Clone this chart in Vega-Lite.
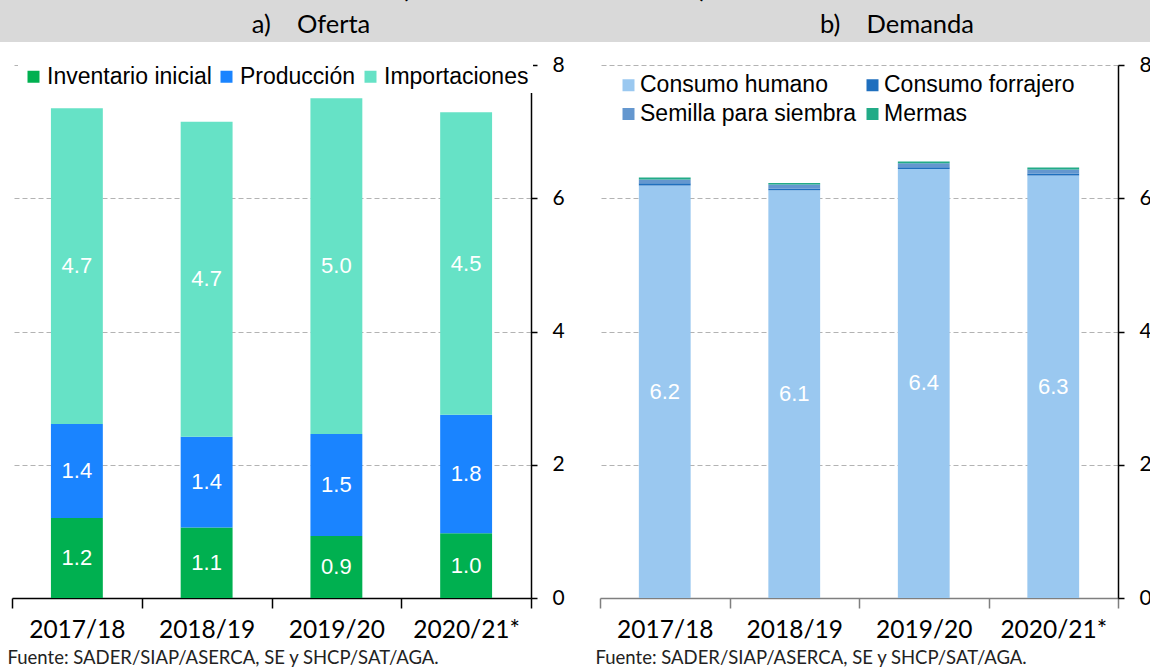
{
  "$schema": "https://vega.github.io/schema/vega-lite/v6.json",
  "padding": 0,
  "background": "white",
  "spacing": 12,
  "columns": 1,
  "align": "none",
  "config": {
    "view": {"stroke": null},
    "axis": {"labelFont": "Lato", "titleFont": "Lato", "labelColor": "black", "titleColor": "#222222"},
    "legend": {"labelFont": "Liberation Sans", "labelFontSize": 23, "labelColor": "black", "labelLimit": 400}
  },
  "resolve": {"scale": {"color": "independent", "y": "independent", "x": "independent"}, "legend": {"color": "independent"}},
  "datasets": {
    "oferta": [
      {"ciclo": "2017/18", "serie": "Inventario inicial", "orden": 1, "valor": 1.20},
      {"ciclo": "2017/18", "serie": "Producción", "orden": 2, "valor": 1.41},
      {"ciclo": "2017/18", "serie": "Importaciones", "orden": 3, "valor": 4.74},
      {"ciclo": "2018/19", "serie": "Inventario inicial", "orden": 1, "valor": 1.06},
      {"ciclo": "2018/19", "serie": "Producción", "orden": 2, "valor": 1.36},
      {"ciclo": "2018/19", "serie": "Importaciones", "orden": 3, "valor": 4.73},
      {"ciclo": "2019/20", "serie": "Inventario inicial", "orden": 1, "valor": 0.93},
      {"ciclo": "2019/20", "serie": "Producción", "orden": 2, "valor": 1.53},
      {"ciclo": "2019/20", "serie": "Importaciones", "orden": 3, "valor": 5.04},
      {"ciclo": "2020/21*", "serie": "Inventario inicial", "orden": 1, "valor": 0.97},
      {"ciclo": "2020/21*", "serie": "Producción", "orden": 2, "valor": 1.78},
      {"ciclo": "2020/21*", "serie": "Importaciones", "orden": 3, "valor": 4.54}
    ],
    "demanda": [
      {"ciclo": "2017/18", "serie": "Consumo humano", "orden": 1, "valor": 6.19},
      {"ciclo": "2017/18", "serie": "Consumo forrajero", "orden": 2, "valor": 0.035},
      {"ciclo": "2017/18", "serie": "Semilla para siembra", "orden": 3, "valor": 0.055},
      {"ciclo": "2017/18", "serie": "Mermas", "orden": 4, "valor": 0.03},
      {"ciclo": "2018/19", "serie": "Consumo humano", "orden": 1, "valor": 6.12},
      {"ciclo": "2018/19", "serie": "Consumo forrajero", "orden": 2, "valor": 0.025},
      {"ciclo": "2018/19", "serie": "Semilla para siembra", "orden": 3, "valor": 0.06},
      {"ciclo": "2018/19", "serie": "Mermas", "orden": 4, "valor": 0.025},
      {"ciclo": "2019/20", "serie": "Consumo humano", "orden": 1, "valor": 6.44},
      {"ciclo": "2019/20", "serie": "Consumo forrajero", "orden": 2, "valor": 0.025},
      {"ciclo": "2019/20", "serie": "Semilla para siembra", "orden": 3, "valor": 0.06},
      {"ciclo": "2019/20", "serie": "Mermas", "orden": 4, "valor": 0.025},
      {"ciclo": "2020/21*", "serie": "Consumo humano", "orden": 1, "valor": 6.34},
      {"ciclo": "2020/21*", "serie": "Consumo forrajero", "orden": 2, "valor": 0.03},
      {"ciclo": "2020/21*", "serie": "Semilla para siembra", "orden": 3, "valor": 0.06},
      {"ciclo": "2020/21*", "serie": "Mermas", "orden": 4, "valor": 0.03}
    ]
  },
  "concat": [
    {
      "width": 1150,
      "height": 42,
      "view": {"fill": "#d9d9d9", "stroke": null},
      "layer": [
        {
          "data": {"values": [{"t": "(Millones de toneladas)"}]},
          "mark": {"type": "text", "font": "Lato", "fontSize": 30.5, "baseline": "alphabetic", "color": "black", "dx": -21, "dy": -24.5, "clip": true},
          "encoding": {"text": {"field": "t"}}
        },
        {
          "data": {"values": [{"t": "a)\u00a0\u00a0\u00a0\u00a0Oferta"}]},
          "mark": {"type": "text", "font": "Lato", "fontSize": 25.5, "baseline": "alphabetic", "color": "black", "dx": -264, "dy": 12},
          "encoding": {"text": {"field": "t"}}
        },
        {
          "data": {"values": [{"t": "b)\u00a0\u00a0\u00a0\u00a0Demanda"}]},
          "mark": {"type": "text", "font": "Lato", "fontSize": 25.5, "baseline": "alphabetic", "color": "black", "dx": 322, "dy": 12},
          "encoding": {"text": {"field": "t"}}
        }
      ]
    },
    {
      "spacing": 0,
      "resolve": {"scale": {"color": "independent", "y": "independent", "x": "independent"}, "legend": {"color": "independent"}},
      "hconcat": [
        {
          "width": 7,
          "height": 10,
          "data": {"values": []},
          "mark": {"type": "point", "opacity": 0}
        },
        {
          "resolve": {"scale": {"color": "independent", "y": "independent", "x": "independent"}, "legend": {"color": "independent"}},
          "spacing": 30,
          "hconcat": [
            {
              "width": 519,
              "height": 533,
              "data": {"name": "oferta"},
              "layer": [
                {
                  "mark": {"type": "bar", "width": {"band": 0.4}},
                  "encoding": {
                    "x": {"field": "ciclo", "type": "nominal", "sort": null,
                      "scale": {"paddingInner": 0, "paddingOuter": 0},
                      "axis": {"title": "Fuente: SADER/SIAP/ASERCA, SE y SHCP/SAT/AGA.", "labelAngle": 0, "tickBand": "extent",
                        "domainColor": "black", "domainWidth": 1.5, "tickColor": "black", "tickWidth": 1.5, "tickSize": 10,
                        "labelFontSize": 24.5, "labelPadding": 10,
                        "titleAnchor": "start", "titleAlign": "left", "titleX": -5, "titleFontSize": 18.5, "titleFontWeight": "normal", "titlePadding": 7, "titleLimit": 600}},
                    "y": {"field": "valor", "type": "quantitative", "stack": "zero",
                      "scale": {"domain": [0, 8], "nice": false},
                      "axis": {"orient": "right", "values": [0, 2, 4, 6, 8], "format": "d", "title": null, "grid": true, "gridColor": "#b3b3b3", "gridDash": [5, 3], "gridWidth": 1,
                        "domainColor": "black", "domainWidth": 1.5, "tickColor": "black", "tickWidth": 1.5, "tickSize": 6,
                        "labelFontSize": 21, "labelPadding": 15}},
                    "color": {"field": "serie", "type": "nominal",
                      "scale": {"domain": ["Inventario inicial", "Producción", "Importaciones"], "range": ["#00b050", "#1a84ff", "#66e2c6"]},
                      "legend": {"title": null, "orient": "none", "legendX": 6, "legendY": -4, "direction": "horizontal", "columns": 3,
                        "symbolType": "square", "symbolSize": 144, "symbolStrokeWidth": 0, "labelOffset": 2, "columnPadding": 3,
                        "fillColor": "white", "padding": 4}},
                    "order": {"field": "orden"}
                  }
                },
                {
                  "mark": {"type": "text", "color": "white", "font": "Liberation Sans", "fontSize": 22},
                  "encoding": {
                    "x": {"field": "ciclo", "type": "nominal", "sort": null},
                    "y": {"field": "valor", "type": "quantitative", "stack": "zero", "bandPosition": 0.5},
                    "detail": {"field": "serie"},
                    "order": {"field": "orden"},
                    "text": {"field": "valor", "type": "quantitative", "format": ".1f"}
                  }
                }
              ]
            },
            {
              "width": 518,
              "height": 533,
              "data": {"name": "demanda"},
              "layer": [
                {
                  "mark": {"type": "bar", "width": {"band": 0.4}},
                  "encoding": {
                    "x": {"field": "ciclo", "type": "nominal", "sort": null,
                      "scale": {"paddingInner": 0, "paddingOuter": 0},
                      "axis": {"title": "Fuente: SADER/SIAP/ASERCA, SE y SHCP/SAT/AGA.", "labelAngle": 0, "tickBand": "extent",
                        "domainColor": "#7f7f7f", "domainWidth": 1.5, "tickColor": "#7f7f7f", "tickWidth": 1.5, "tickSize": 10,
                        "labelFontSize": 24.5, "labelPadding": 10,
                        "titleAnchor": "start", "titleAlign": "left", "titleX": -5, "titleFontSize": 18.5, "titleFontWeight": "normal", "titlePadding": 7, "titleLimit": 600}},
                    "y": {"field": "valor", "type": "quantitative", "stack": "zero",
                      "scale": {"domain": [0, 8], "nice": false},
                      "axis": {"orient": "right", "values": [0, 2, 4, 6, 8], "format": "d", "title": null, "grid": true, "gridColor": "#b3b3b3", "gridDash": [5, 3], "gridWidth": 1,
                        "domainColor": "black", "domainWidth": 1.5, "tickColor": "black", "tickWidth": 1.5, "tickSize": 6,
                        "labelFontSize": 21, "labelPadding": 15}},
                    "color": {"field": "serie", "type": "nominal",
                      "scale": {"domain": ["Consumo humano", "Consumo forrajero", "Semilla para siembra", "Mermas"], "range": ["#9ac8f0", "#1f6fbe", "#6497cf", "#22ab87"]},
                      "legend": {"title": null, "orient": "none", "legendX": 17, "legendY": 8.5, "direction": "horizontal", "columns": 2,
                        "symbolType": "square", "symbolSize": 144, "symbolStrokeWidth": 0, "labelOffset": 0, "columnPadding": 4, "rowPadding": 5,
                        "padding": 0}},
                    "order": {"field": "orden"}
                  }
                },
                {
                  "transform": [{"filter": "datum.serie == 'Consumo humano'"}],
                  "mark": {"type": "text", "color": "white", "font": "Liberation Sans", "fontSize": 22},
                  "encoding": {
                    "x": {"field": "ciclo", "type": "nominal", "sort": null},
                    "y": {"field": "valor", "type": "quantitative", "stack": "zero", "bandPosition": 0.5},
                    "detail": {"field": "serie"},
                    "order": {"field": "orden"},
                    "text": {"field": "valor", "type": "quantitative", "format": ".1f"}
                  }
                }
              ]
            }
          ]
        }
      ]
    }
  ]
}
